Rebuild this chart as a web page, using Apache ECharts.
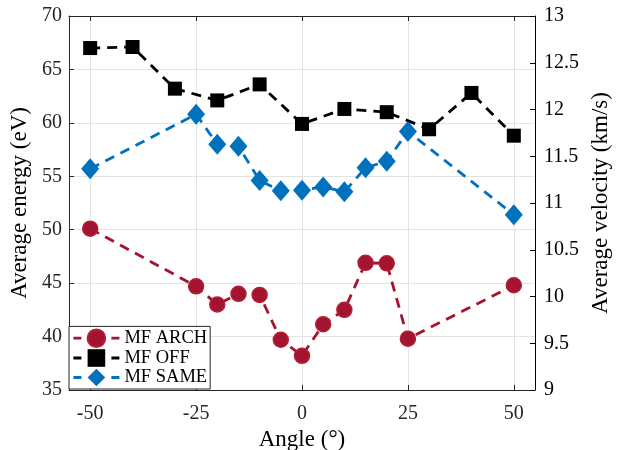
<!DOCTYPE html>
<html>
<head>
<meta charset="utf-8">
<script src="https://cdn.jsdelivr.net/npm/echarts@6/dist/echarts.min.js"></script>
<style>html,body{margin:0;padding:0;background:#fff}#c{width:619px;height:450px}</style>
</head>
<body>
<div id="c"></div>
<script>
var archAngles = [-50, -25, -20, -15, -10, -5, 0, 5, 10, 15, 20, 25, 50];
var archEnergy = [50.1, 44.7, 43.0, 44.0, 43.9, 39.7, 38.2, 41.15, 42.5, 46.9, 46.85, 39.8, 44.8];
var offAngles = [-50, -40, -30, -20, -10, 0, 10, 20, 30, 40, 50];
var offEnergy = [67.0, 67.1, 63.2, 62.1, 63.6, 59.9, 61.3, 61.0, 59.4, 62.8, 58.8];
var sameAngles = [-50, -25, -20, -15, -10, -5, 0, 5, 10, 15, 20, 25, 50];
var sameEnergy = [55.7, 60.8, 58.0, 57.8, 54.6, 53.65, 53.7, 54.0, 53.55, 55.8, 56.4, 59.2, 51.4];
var xTicks = [-50, -25, 0, 25, 50];
var seriesNames = ['MF ARCH', 'MF OFF', 'MF SAME'];

function pairs(xs, ys) { return xs.map(function (x, i) { return [x, ys[i]]; }); }

var font = 'Liberation Serif, Times New Roman, serif';
var axisCol = '#262626';
var gridCol = '#e3e3e3';
var dash = [10, 7];

var chart = echarts.init(document.getElementById('c'), null, { renderer: 'canvas' });
chart.setOption({
  animation: false,
  backgroundColor: '#fff',
  grid: { left: 69, right: 84, top: 16, bottom: 60, containLabel: false, outerBoundsMode: 'none' },
  legend: {
    orient: 'vertical', left: 69, bottom: 61,
    data: seriesNames,
    itemWidth: 46, itemHeight: 22, itemGap: 0.5,
    padding: [2, 3, 2, 3],
    backgroundColor: '#fff', borderColor: axisCol, borderWidth: 1, borderRadius: 0,
    lineStyle: { type: [8, 30], width: 2.8 },
    textStyle: { fontFamily: font, fontSize: 18.5, color: '#000', padding: [0, 0, 0, 0] },
    z: 10
  },
  xAxis: [{
    type: 'value', position: 'bottom', min: -55, max: 55,
    name: 'Angle (°)', nameLocation: 'middle', nameGap: 35,
    nameTextStyle: { fontFamily: font, fontSize: 23, color: '#000' },
    axisLine: { show: true, onZero: false, lineStyle: { color: axisCol, width: 1 } },
    axisTick: { show: true, inside: true, length: 5, customValues: xTicks, lineStyle: { color: axisCol } },
    axisLabel: { customValues: xTicks, fontFamily: font, fontSize: 20, color: axisCol, margin: 14 },
    splitLine: { show: true, lineStyle: { color: gridCol, width: 1 } }
  }, {
    type: 'value', position: 'top', min: -55, max: 55,
    axisLine: { show: true, onZero: false, lineStyle: { color: axisCol, width: 1 } },
    axisTick: { show: true, inside: true, length: 5, customValues: xTicks, lineStyle: { color: axisCol } },
    axisLabel: { show: false },
    splitLine: { show: false }
  }],
  yAxis: [{
    type: 'value', position: 'left', min: 35, max: 70, interval: 5,
    name: 'Average energy (eV)', nameLocation: 'middle', nameGap: 32,
    nameTextStyle: { fontFamily: font, fontSize: 23, color: '#000' },
    axisLine: { show: true, onZero: false, lineStyle: { color: axisCol, width: 1 } },
    axisTick: { show: true, inside: true, length: 5, lineStyle: { color: axisCol } },
    axisLabel: { fontFamily: font, fontSize: 20, color: axisCol, margin: 7 },
    splitLine: { show: true, lineStyle: { color: gridCol, width: 1 } }
  }, {
    type: 'value', position: 'right', min: 9, max: 13, interval: 0.5,
    name: 'Average velocity (km/s)', nameLocation: 'middle', nameGap: 54,
    nameTextStyle: { fontFamily: font, fontSize: 23, color: '#000' },
    axisLine: { show: true, onZero: false, lineStyle: { color: '#000', width: 1 } },
    axisTick: { show: true, inside: true, length: 5, lineStyle: { color: '#000' } },
    axisLabel: { fontFamily: font, fontSize: 20, color: '#000', margin: 9 },
    splitLine: { show: false }
  }],
  series: [{
    name: seriesNames[0], type: 'line', xAxisIndex: 0, yAxisIndex: 0,
    data: pairs(archAngles, archEnergy),
    symbol: 'circle', symbolSize: 15,
    itemStyle: { color: '#A2142F', borderColor: '#B51E33', borderWidth: 1.5 },
    lineStyle: { color: '#A2142F', width: 2.8, type: dash }
  }, {
    name: seriesNames[1], type: 'line', xAxisIndex: 0, yAxisIndex: 0,
    data: pairs(offAngles, offEnergy),
    symbol: 'rect', symbolSize: 14,
    itemStyle: { color: '#000', borderColor: '#000', borderWidth: 0 },
    lineStyle: { color: '#000', width: 2.8, type: dash }
  }, {
    name: seriesNames[2], type: 'line', xAxisIndex: 0, yAxisIndex: 0,
    data: pairs(sameAngles, sameEnergy),
    symbol: 'diamond', symbolSize: [18, 21],
    itemStyle: { color: '#0072BD', borderColor: '#0072BD', borderWidth: 0 },
    lineStyle: { color: '#0072BD', width: 2.8, type: dash }
  }]
});
</script>
</body>
</html>
